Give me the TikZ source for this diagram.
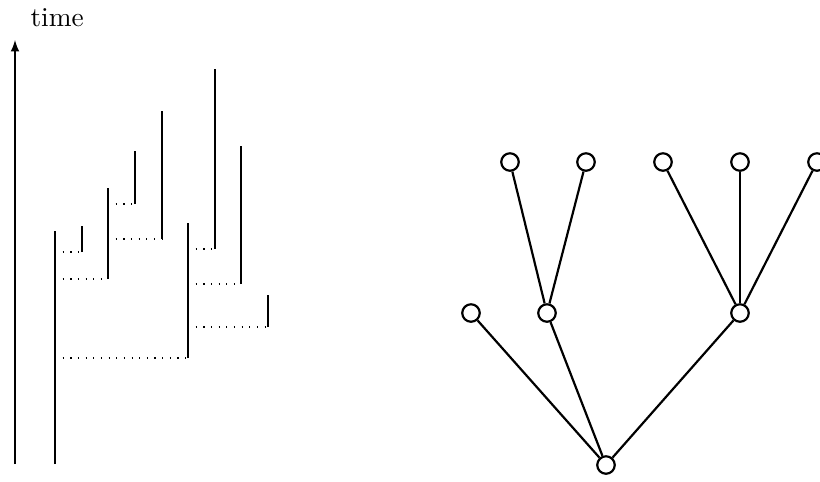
\documentclass[tikz,border=0pt]{standalone}
\usetikzlibrary{arrows}
\begin{document}
\begin{tikzpicture}[x=0.366pt,y=-0.366pt,
  lin/.style={line width=0.45pt},
  dot/.style={dash pattern=on 0.45pt off 2.35pt,line width=0.45pt},
  vtx/.style={circle,draw,line width=0.8pt,minimum size=6.4pt,inner sep=0pt},
  edg/.style={line width=0.8pt}]
\useasboundingbox (0,0) rectangle (820,481);
% time axis
\coordinate (ab) at (15,464);
\coordinate (at) at (15,40);
\draw[lin,-latex] (ab) -- (at);
\node[anchor=base west,inner sep=0pt] (tl) at (30,26) {time};
% lineages (verticals)
\coordinate (a1) at (55,464);   \coordinate (a2) at (55,231);
\coordinate (b1) at (82,252);   \coordinate (b2) at (82,226);
\coordinate (c1) at (108,279);  \coordinate (c2) at (108,188);
\coordinate (d1) at (135,204);  \coordinate (d2) at (135,151);
\coordinate (e1) at (162,239);  \coordinate (e2) at (162,111);
\coordinate (f1) at (188,358);  \coordinate (f2) at (188,223);
\coordinate (g1) at (215,249);  \coordinate (g2) at (215,69);
\coordinate (h1) at (241,284);  \coordinate (h2) at (241,146);
\coordinate (i1) at (268,327);  \coordinate (i2) at (268,295);
\foreach \p in {a,b,c,d,e,f,g,h,i}{\draw[lin] (\p1) -- (\p2);}
% splits (dotted)
\draw[dot] (55,252) -- (b1);
\draw[dot] (55,279) -- (c1);
\draw[dot] (108,204) -- (d1);
\draw[dot] (108,239) -- (e1);
\draw[dot] (55,358) -- (f1);
\draw[dot] (188,249) -- (g1);
\draw[dot] (188,284) -- (h1);
\draw[dot] (188,327) -- (i1);
% tree
\node[vtx] (r) at (606,465) {};
\node[vtx] (m1) at (471,313) {};
\node[vtx] (m2) at (547,313) {};
\node[vtx] (m3) at (740,313) {};
\node[vtx] (t1) at (510,162) {};
\node[vtx] (t2) at (586,162) {};
\node[vtx] (t3) at (663,162) {};
\node[vtx] (t4) at (740,162) {};
\node[vtx] (t5) at (817,162) {};
\draw[edg] (r) -- (m1);
\draw[edg] (r) -- (m2);
\draw[edg] (r) -- (m3);
\draw[edg] (m2) -- (t1);
\draw[edg] (m2) -- (t2);
\draw[edg] (m3) -- (t3);
\draw[edg] (m3) -- (t4);
\draw[edg] (m3) -- (t5);
\end{tikzpicture}
\end{document}
